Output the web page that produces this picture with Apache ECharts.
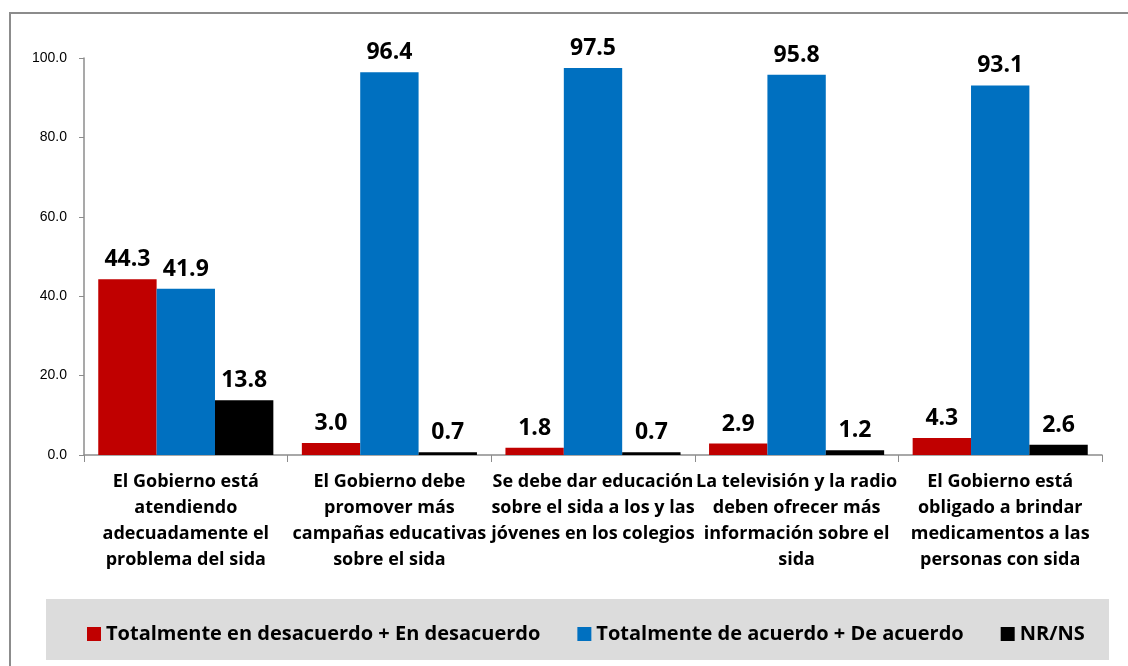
<!DOCTYPE html>
<html>
<head>
    <meta charset="UTF-8"/>
    <title>Sida - opiniones</title>
    <style>
        html, body{
            margin: 0;
            background: #fff;
        }
    </style>
    <script src="https://cdn.jsdelivr.net/npm/echarts@6/dist/echarts.min.js"></script>
</head>
<body>
<div id="container" style="width: 1128px;height: 666px;"></div>

<script>
  var categories = [
      'El Gobierno está\natendiendo\nadecuadamente el\nproblema del sida',
      'El Gobierno debe\npromover más\ncampañas educativas\nsobre el sida',
      'Se debe dar educación\nsobre el sida a los y las\njóvenes en los colegios',
      'La televisión y la radio\ndeben ofrecer más\ninformación sobre el\nsida',
      'El Gobierno está\nobligado a brindar\nmedicamentos a las\npersonas con sida'
  ];
  var seriesNames = [
      'Totalmente en desacuerdo + En desacuerdo',
      'Totalmente de acuerdo + De acuerdo',
      'NR/NS'
  ];
  var desacuerdo = [44.3, 3.0, 1.8, 2.9, 4.3];
  var acuerdo = [41.9, 96.4, 97.5, 95.8, 93.1];
  var nrns = [13.8, 0.7, 0.7, 1.2, 2.6];
  var colors = ['#C00000', '#0070C0', '#000000'];

  var font = '"Open Sans", "Noto Sans", sans-serif';
  var dom = document.getElementById("container");
  var myChart = echarts.init(dom);

  function bar(name, data, color) {
      return {
          name: name,
          type: 'bar',
          data: data,
          barGap: 0,
          barCategoryGap: '14%',
          itemStyle: { color: color },
          label: {
              show: true,
              position: 'top',
              distance: 8,
              color: '#000',
              fontFamily: font,
              fontWeight: 'bold',
              fontSize: 23,
              formatter: function (p) { return p.value.toFixed(1); }
          }
      };
  }

  var option = {
      animation: false,
      color: colors,
      graphic: [
          {
              type: 'rect',
              z: -10,
              shape: { x: 10, y: 13, width: 1200, height: 700 },
              style: { fill: 'none', stroke: '#8c8c8c', lineWidth: 2 }
          },
          {
              type: 'rect',
              z: -5,
              shape: { x: 46, y: 599, width: 1063, height: 61 },
              style: { fill: '#dcdcdc' }
          }
      ],
      grid: {
          left: 84,
          right: 26,
          top: 58,
          bottom: 211
      },
      legend: {
          left: 82,
          top: 619,
          icon: 'rect',
          itemWidth: 14,
          itemHeight: 14,
          itemGap: 37,
          textStyle: {
              fontFamily: font,
              fontWeight: 'bold',
              fontSize: 20,
              color: '#000'
          },
          data: seriesNames
      },
      xAxis: {
          type: 'category',
          data: categories,
          axisLine: { lineStyle: { color: '#8c8c8c', width: 1.5 } },
          axisTick: { show: true, length: 7, lineStyle: { color: '#8c8c8c' } },
          axisLabel: {
              interval: 0,
              margin: 14,
              color: '#000',
              fontFamily: font,
              fontWeight: 'bold',
              fontSize: 18,
              lineHeight: 26
          }
      },
      yAxis: {
          type: 'value',
          min: 0,
          max: 100,
          interval: 20,
          splitLine: { show: false },
          axisLine: { show: true, lineStyle: { color: '#8c8c8c', width: 1.5 } },
          axisTick: { show: true, length: 5, lineStyle: { color: '#8c8c8c' } },
          axisLabel: {
              margin: 17,
              color: '#000',
              fontFamily: '"Liberation Sans", sans-serif',
              fontSize: 14,
              formatter: function (v) { return v.toFixed(1); }
          }
      },
      series: [
          bar(seriesNames[0], desacuerdo, colors[0]),
          bar(seriesNames[1], acuerdo, colors[1]),
          bar(seriesNames[2], nrns, colors[2])
      ]
  };
  myChart.setOption(option);
</script>

</body>
</html>
